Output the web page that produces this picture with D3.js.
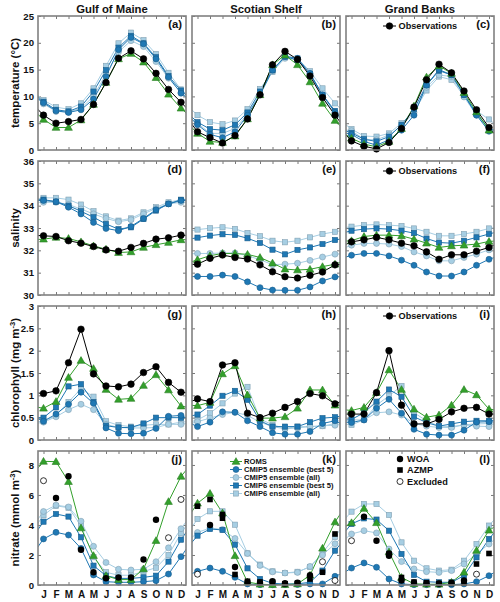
<!DOCTYPE html>
<html><head><meta charset="utf-8">
<script src="https://cdn.jsdelivr.net/npm/d3@7"></script>
<style>
body{margin:0;background:#fff}
text{font-family:"Liberation Sans",Arial,sans-serif;font-weight:bold;fill:#111}
</style>
</head><body><svg id="c" width="500" height="602"></svg>
<script>
// ---------------- data ----------------
const months = ["J","F","M","A","M","J","J","A","S","O","N","D"];
const regions = ["Gulf of Maine","Scotian Shelf","Grand Banks"];
const panelLabels = [["(a)","(b)","(c)"],["(d)","(e)","(f)"],["(g)","(h)","(i)"],["(j)","(k)","(l)"]];
const yTickLabels = [[0,5,10,15,20,25],[30,31,32,33,34,35,36],[0,0.5,1,1.5,2,2.5,3],[0,2,4,6,8]];

// temperature (°C): [Gulf of Maine, Scotian Shelf, Grand Banks]
const tempObs   = [[6.5,5.0,5.3,5.7,8.5,12.6,17.1,18.5,17.0,14.3,11.3,8.9],[3.4,2.3,1.3,2.7,5.8,10.3,15.9,18.4,16.9,13.8,9.8,6.5],[1.7,0.7,0.2,1.4,4.0,8.0,13.1,16.0,14.4,11.0,7.5,4.2]];
const tempROMS  = [[5.7,4.2,4.2,5.6,8.5,12.6,17.0,18.0,16.4,13.5,10.4,7.8],[3.1,1.6,1.4,2.6,5.8,10.3,15.9,17.7,15.9,12.7,8.7,5.5],[2.2,1.1,0.6,1.6,4.0,8.2,13.6,15.7,14.3,10.7,7.1,3.7]];
const tempC5best= [[8.8,7.3,7.0,7.5,9.5,13.7,18.7,21.0,19.8,17.0,13.6,10.6],[4.7,2.9,2.3,3.4,6.5,10.3,14.9,17.5,17.1,14.3,10.3,7.0],[2.9,1.6,0.9,1.9,3.7,6.5,12.1,15.0,14.0,10.3,6.5,3.5]];
const tempC5all = [[8.6,7.2,7.1,7.8,10.0,14.2,18.3,20.4,19.3,16.5,13.4,10.7],[5.0,3.1,3.1,4.0,6.7,10.4,14.7,17.1,16.9,14.2,9.9,6.5],[3.6,2.0,1.9,2.8,4.5,7.0,11.7,14.0,13.7,9.9,6.5,3.9]];
const tempC6best= [[9.0,7.5,7.2,8.1,10.9,14.9,19.1,21.3,19.9,17.3,13.8,11.1],[5.2,3.9,3.7,4.7,7.0,10.9,14.9,17.4,16.8,14.2,10.3,7.3],[3.2,2.0,1.6,2.5,4.7,7.6,12.1,14.8,14.0,10.3,6.8,4.0]];
const tempC6all = [[9.3,8.0,7.6,8.7,11.5,15.7,19.9,21.9,20.5,17.9,14.4,11.3],[6.5,5.2,4.8,5.5,7.6,11.4,14.6,17.3,17.1,14.7,11.5,8.7],[3.9,2.6,2.5,3.1,5.0,7.1,11.1,13.7,13.1,10.1,7.3,5.7]];

// salinity
const salObs    = [[32.65,32.62,32.43,32.32,32.17,32.02,31.96,32.13,32.31,32.50,32.56,32.68],[31.38,31.64,31.79,31.68,31.61,31.35,31.04,30.82,30.76,30.88,31.03,31.35],[32.38,32.47,32.58,32.47,32.32,32.20,31.93,31.60,31.80,31.80,31.96,32.13]];
const salROMS   = [[32.50,32.58,32.53,32.38,32.20,32.05,31.90,31.93,32.13,32.25,32.35,32.47],[31.58,31.76,31.86,31.86,31.82,31.68,31.43,31.16,31.12,31.15,31.27,31.38],[32.43,32.62,32.68,32.68,32.65,32.50,32.32,32.13,32.20,32.23,32.28,32.40]];
const salC5best = [[34.23,34.18,33.93,33.63,33.25,32.98,32.88,33.07,33.43,33.82,34.08,34.23],[30.83,30.83,30.89,30.83,30.59,30.33,30.22,30.21,30.21,30.36,30.63,30.81],[31.78,31.86,31.86,31.75,31.56,31.33,31.03,30.85,30.85,31.03,31.33,31.60]];
const salC5all  = [[34.15,34.15,34.05,33.85,33.63,33.43,33.28,33.37,33.63,33.88,34.08,34.15],[31.86,31.86,31.88,31.88,31.76,31.58,31.36,31.38,31.42,31.55,31.70,31.83],[32.23,32.31,32.31,32.28,32.17,31.93,31.75,31.53,31.53,31.68,31.83,32.02]];
const salC6best = [[34.27,34.18,34.00,33.75,33.48,33.18,32.95,33.03,33.40,33.78,34.08,34.26],[32.57,32.66,32.72,32.69,32.54,32.33,32.03,31.82,32.02,32.13,32.28,32.46],[32.88,32.95,32.98,32.95,32.88,32.77,32.53,32.35,32.32,32.43,32.58,32.73]];
const salC6all  = [[34.35,34.35,34.27,34.05,33.75,33.52,33.33,33.43,33.70,33.93,34.15,34.27],[32.93,32.99,33.03,32.96,32.78,32.63,32.43,32.36,32.43,32.58,32.73,32.83],[33.06,33.13,33.16,33.13,33.09,32.98,32.83,32.65,32.65,32.73,32.83,32.98]];

// chlorophyll (mg m-3)
const chlObs    = [[1.04,1.10,1.73,2.48,1.48,1.21,1.19,1.25,1.51,1.64,1.29,1.07],[0.92,0.86,1.68,1.73,0.60,0.50,0.60,0.73,0.86,1.04,0.99,0.81],[0.58,0.58,1.06,2.00,0.78,0.36,0.36,0.46,0.63,0.71,0.73,0.58]];
const chlROMS   = [[0.71,0.86,1.40,1.78,1.60,1.13,0.91,0.93,1.22,1.46,1.12,0.76],[0.77,0.84,1.48,1.66,1.01,0.49,0.49,0.52,0.71,1.12,1.12,0.78],[0.66,0.73,1.06,1.57,1.13,0.69,0.51,0.56,0.78,1.13,1.01,0.69]];
const chlC5best = [[0.42,0.58,0.80,1.07,0.82,0.27,0.15,0.14,0.15,0.26,0.53,0.55],[0.30,0.40,0.63,0.62,0.43,0.30,0.16,0.13,0.13,0.19,0.37,0.43],[0.39,0.45,0.71,0.91,0.60,0.24,0.13,0.11,0.11,0.22,0.40,0.41]];
const chlC5all  = [[0.40,0.52,0.68,0.80,0.68,0.35,0.28,0.27,0.27,0.28,0.35,0.35],[0.41,0.49,0.57,0.62,0.55,0.40,0.30,0.25,0.27,0.30,0.32,0.33],[0.45,0.45,0.61,0.63,0.56,0.37,0.31,0.28,0.28,0.34,0.31,0.30]];
const chlC6best = [[0.50,0.73,1.20,1.25,0.85,0.32,0.28,0.28,0.37,0.50,0.50,0.50],[0.57,0.77,0.99,1.10,0.90,0.43,0.30,0.30,0.30,0.40,0.49,0.51],[0.46,0.61,0.86,1.13,0.97,0.52,0.39,0.31,0.36,0.41,0.43,0.43]];
const chlC6all  = [[0.42,0.55,0.85,1.15,0.97,0.42,0.33,0.30,0.33,0.35,0.35,0.40],[0.45,0.60,0.82,1.04,1.19,0.47,0.34,0.26,0.30,0.30,0.31,0.37],[0.34,0.45,0.78,0.99,1.21,0.61,0.43,0.31,0.30,0.34,0.36,0.37]];

// nitrate (mmol m-3)
const no3ROMS   = [[8.24,8.22,6.89,3.80,1.96,0.62,0.36,0.36,1.07,2.96,5.56,7.24],[5.45,6.10,4.80,1.95,0.20,0.05,0.02,0.02,0.07,0.65,2.45,4.20],[4.15,5.10,4.15,2.20,0.50,0.08,0.05,0.05,0.18,0.85,2.30,3.65]];
const no3C5best = [[3.07,3.51,3.33,2.44,0.67,0.22,0.18,0.18,0.22,0.29,0.73,1.89],[0.91,1.13,0.91,0.51,0.07,0.02,0.02,0.02,0.03,0.07,0.07,0.58],[1.13,1.47,1.18,0.40,0.07,0.02,0.02,0.02,0.02,0.07,0.22,0.62]];
const no3C5all  = [[4.90,5.32,5.20,4.25,2.58,1.50,1.05,1.00,1.05,1.55,2.48,3.75],[3.50,3.80,3.70,3.10,2.10,1.30,0.88,0.80,0.84,1.24,2.00,2.75],[3.40,3.62,3.47,2.40,1.56,1.07,0.89,0.84,0.96,1.40,2.07,2.73]];
const no3C6best = [[4.22,4.73,4.56,3.18,1.29,0.62,0.44,0.44,0.51,0.62,1.56,3.02],[3.29,3.73,3.67,2.69,1.11,0.40,0.11,0.07,0.08,0.18,0.96,2.29],[4.07,4.44,4.36,3.62,2.07,0.67,0.22,0.18,0.18,0.62,1.84,3.07]];
const no3C6all  = [[4.65,5.28,5.15,3.95,1.85,0.85,0.65,0.65,0.90,1.15,2.00,3.45],[4.40,4.91,4.91,4.02,2.11,1.36,0.91,0.80,0.88,1.20,2.15,3.20],[4.89,5.40,5.40,4.67,2.84,1.62,1.11,0.96,1.02,1.62,2.73,3.96]];
// nitrate observations as [month, value]
const no3WOA = [[[2,5.8],[3,7.25],[4,2.35],[5,0.85],[6,0.45],[7,0.5],[8,0.5],[9,1.7],[10,4.35]],
                [[2,4.0],[4,1.2],[5,0.2],[6,0.15],[7,0.25],[8,0.12],[9,0.15],[10,0.65]],
                [[2,4.55],[3,2.95],[4,2.1],[4,1.95],[5,0.3],[6,0.15],[7,0.12],[8,0.1],[9,0.15],[10,0.3]]];
const no3AZMP = [[],
                 [[1,5.25],[2,5.7],[3,4.7],[3,4.45],[4,0.7],[5,0.25],[6,0.2],[7,0.18],[8,0.08],[9,0.12],[10,0.4],[11,0.85],[12,3.4]],
                 [[4,2.05],[5,0.5],[6,0.2],[7,0.15],[8,0.1],[9,0.1],[10,0.12],[11,1.4],[12,2.1]]];
const no3Excl = [[[1,6.95],[11,3.15],[12,5.7]],[[1,0.72],[11,1.55],[12,0.3]],[[1,2.95],[11,0.72]]];

// ---------------- layout & styles ----------------
const W = 148, H = 134;
const colX = [38, 192, 346];
const rowY = [16, 161, 306, 451];
const yDomains = [[0,25],[30,36],[0,3],[0,8.93]];
const green = "#33a02c", dark = "#1f78b4", light = "#a6cee3";
const styles = {
  C6all:  {color: light, shape: "square", r: 2.6},
  C5all:  {color: light, shape: "circle", r: 3},
  C6best: {color: dark,  shape: "square", r: 2.6},
  C5best: {color: dark,  shape: "circle", r: 3},
  ROMS:   {color: green, shape: "triangle", r: 3.4},
  Obs:    {color: "#000", shape: "circle", r: 3.3}
};
const rowsData = [
  {C6all: tempC6all, C5all: tempC5all, C6best: tempC6best, C5best: tempC5best, ROMS: tempROMS, Obs: tempObs},
  {C6all: salC6all, C5all: salC5all, C6best: salC6best, C5best: salC5best, ROMS: salROMS, Obs: salObs},
  {C6all: chlC6all, C5all: chlC5all, C6best: chlC6best, C5best: chlC5best, ROMS: chlROMS, Obs: chlObs},
  {C6all: no3C6all, C5all: no3C5all, C6best: no3C6best, C5best: no3C5best, ROMS: no3ROMS}
];
const order = ["C6all","C5all","C6best","C5best","ROMS","Obs"];

const svg = d3.select("#c");
const x = d3.scaleLinear().domain([0.56, 12.4]).range([0, W]);
const fmt = d => String(d);

function marker(sel, st, fillOverride) {
  const edge = st.color === "#000" ? "#000" : d3.color(st.color).darker(0.7).formatHex();
  if (st.shape === "circle") {
    sel.append("circle").attr("r", st.r).attr("fill", fillOverride || st.color).attr("stroke", edge).attr("stroke-width", 0.6);
  } else if (st.shape === "square") {
    sel.append("rect").attr("x", -st.r).attr("y", -st.r).attr("width", 2*st.r).attr("height", 2*st.r)
      .attr("fill", st.color).attr("stroke", edge).attr("stroke-width", 0.6);
  } else {
    sel.append("path").attr("d", d3.symbol(d3.symbolTriangle, 26)()).attr("transform","translate(0,0.6)")
      .attr("fill", st.color).attr("stroke", edge).attr("stroke-width", 0.6);
  }
}

rowY.forEach((ry, r) => {
  const y = d3.scaleLinear().domain(yDomains[r]).range([H, 0]);
  colX.forEach((cx, c) => {
    const g = svg.append("g").attr("transform", `translate(${cx},${ry})`);
    const cid = `clip${r}${c}`;
    g.append("clipPath").attr("id", cid).append("rect").attr("width", W).attr("height", H);
    // axes (inward ticks)
    const la = g.append("g").call(d3.axisLeft(y).tickValues(yTickLabels[r]).tickSize(-3).tickSizeOuter(0).tickPadding(4)
        .tickFormat(c === 0 ? fmt : ""));
    const ra = g.append("g").attr("transform",`translate(${W},0)`).call(d3.axisRight(y).tickValues(yTickLabels[r]).tickSize(-3).tickSizeOuter(0).tickFormat(""));
    const ta = g.append("g").call(d3.axisTop(x).tickValues(d3.range(1,13)).tickSize(-3).tickSizeOuter(0).tickFormat(""));
    const ba = g.append("g").attr("transform",`translate(0,${H})`).call(d3.axisBottom(x).tickValues(d3.range(1,13)).tickSize(-3).tickSizeOuter(0).tickPadding(6)
        .tickFormat(r === 3 ? (d => months[d-1]) : ""));
    [la, ra, ta, ba].forEach(a => {
      a.select(".domain").remove();
      a.selectAll("line").attr("stroke", "#555").attr("stroke-width", 0.8);
      a.selectAll("text").attr("font-size", 9.6).attr("font-family", "Liberation Sans, Arial, sans-serif").attr("font-weight", "bold").attr("fill", "#111");
    });
    ba.selectAll("text").attr("font-size", 10);

    const data = rowsData[r];
    const plot = g.append("g").attr("clip-path", `url(#${cid})`);
    const line = d3.line().x(d => x(d[0])).y(d => y(d[1]));
    order.forEach(k => {
      if (!data[k]) return;
      const v = data[k][c], st = styles[k];
      const pts = [[0, v[11]], ...v.map((d, i) => [i + 1, d]), [13, v[0]]];
      plot.append("path").attr("d", line(pts)).attr("fill", "none").attr("stroke", st.color).attr("stroke-width", 1);
      v.forEach((d, i) => {
        const m = g.append("g").attr("transform", `translate(${x(i+1)},${y(d)})`);
        marker(m, st);
      });
    });
    if (r === 3) {
      no3Excl[c].forEach(d => g.append("circle").attr("cx", x(d[0])).attr("cy", y(d[1])).attr("r", 3)
        .attr("fill", "#fff").attr("stroke", "#000").attr("stroke-width", 0.8));
      no3WOA[c].forEach(d => g.append("circle").attr("cx", x(d[0])).attr("cy", y(d[1])).attr("r", 3.2).attr("fill", "#000"));
      no3AZMP[c].forEach(d => g.append("rect").attr("x", x(d[0]) - 2.8).attr("y", y(d[1]) - 2.8).attr("width", 5.6).attr("height", 5.6).attr("fill", "#000"));
    }
    // frame
    g.append("rect").attr("width", W).attr("height", H).attr("fill", "none").attr("stroke", "#808080").attr("stroke-width", 1.6);
    // panel label
    g.append("text").attr("x", W - 4).attr("y", 11.5).attr("text-anchor", "end").attr("font-size", 11.3).text(panelLabels[r][c]);

    // legends
    if (c === 2 && r < 3) {
      const lg = g.append("g").attr("transform", "translate(37,10)");
      lg.append("line").attr("x1", 0).attr("x2", 13).attr("stroke", "#000").attr("stroke-width", 1);
      const m = lg.append("g").attr("transform", "translate(6.5,0)"); marker(m, styles.Obs);
      lg.append("text").attr("x", 15.5).attr("dy", "0.35em").attr("font-size", 9.2).text("Observations");
    }
    if (r === 3 && c === 1) {
      const items = [["ROMS","ROMS"],["C5best","CMIP5 ensemble (best 5)"],["C5all","CMIP5 ensemble (all)"],["C6best","CMIP6 ensemble (best 5)"],["C6all","CMIP6 ensemble (all)"]];
      items.forEach((it, i) => {
        const lg = g.append("g").attr("transform", `translate(38,${10.5 + i*8})`);
        const st = styles[it[0]];
        lg.append("line").attr("x1", 0).attr("x2", 12).attr("stroke", st.color).attr("stroke-width", 1);
        const m = lg.append("g").attr("transform", "translate(6,0)"); marker(m, st);
        lg.append("text").attr("x", 14).attr("dy", "0.35em").attr("font-size", 7.6).text(it[1]);
      });
    }
    if (r === 3 && c === 2) {
      const lg = g.append("g").attr("transform", "translate(54,8)");
      lg.append("circle").attr("r", 3.2).attr("fill", "#000");
      lg.append("text").attr("x", 7).attr("dy", "0.35em").attr("font-size", 9.2).text("WOA");
      lg.append("rect").attr("x", -2.8).attr("y", 11 - 2.8).attr("width", 5.6).attr("height", 5.6).attr("fill", "#000");
      lg.append("text").attr("x", 7).attr("y", 11).attr("dy", "0.35em").attr("font-size", 9.2).text("AZMP");
      lg.append("circle").attr("cy", 22.5).attr("r", 3).attr("fill", "#fff").attr("stroke", "#000").attr("stroke-width", 0.8);
      lg.append("text").attr("x", 7).attr("y", 22.5).attr("dy", "0.35em").attr("font-size", 9.2).text("Excluded");
    }
  });
});

// column titles
colX.forEach((cx, c) => {
  svg.append("text").attr("x", cx + W/2).attr("y", 12.5).attr("text-anchor", "middle").attr("font-size", 11.3).text(regions[c]);
});

// y-axis labels
const ylab = [
  {parts: [["temperature (°C)", false]]},
  {parts: [["salinity", false]]},
  {parts: [["chlorophyll (mg m", false], ["-3", true], [")", false]]},
  {parts: [["nitrate (mmol m", false], ["-3", true], [")", false]]}
];
ylab.forEach((l, r) => {
  const t = svg.append("text").attr("transform", `translate(18.5,${rowY[r] + H/2}) rotate(-90)`)
    .attr("text-anchor", "middle").attr("font-size", 11.5);
  l.parts.forEach(p => {
    const ts = t.append("tspan").text(p[0]);
    if (p[1]) ts.attr("baseline-shift", "super").attr("font-size", 7.5);
  });
});
</script>
</body></html>
